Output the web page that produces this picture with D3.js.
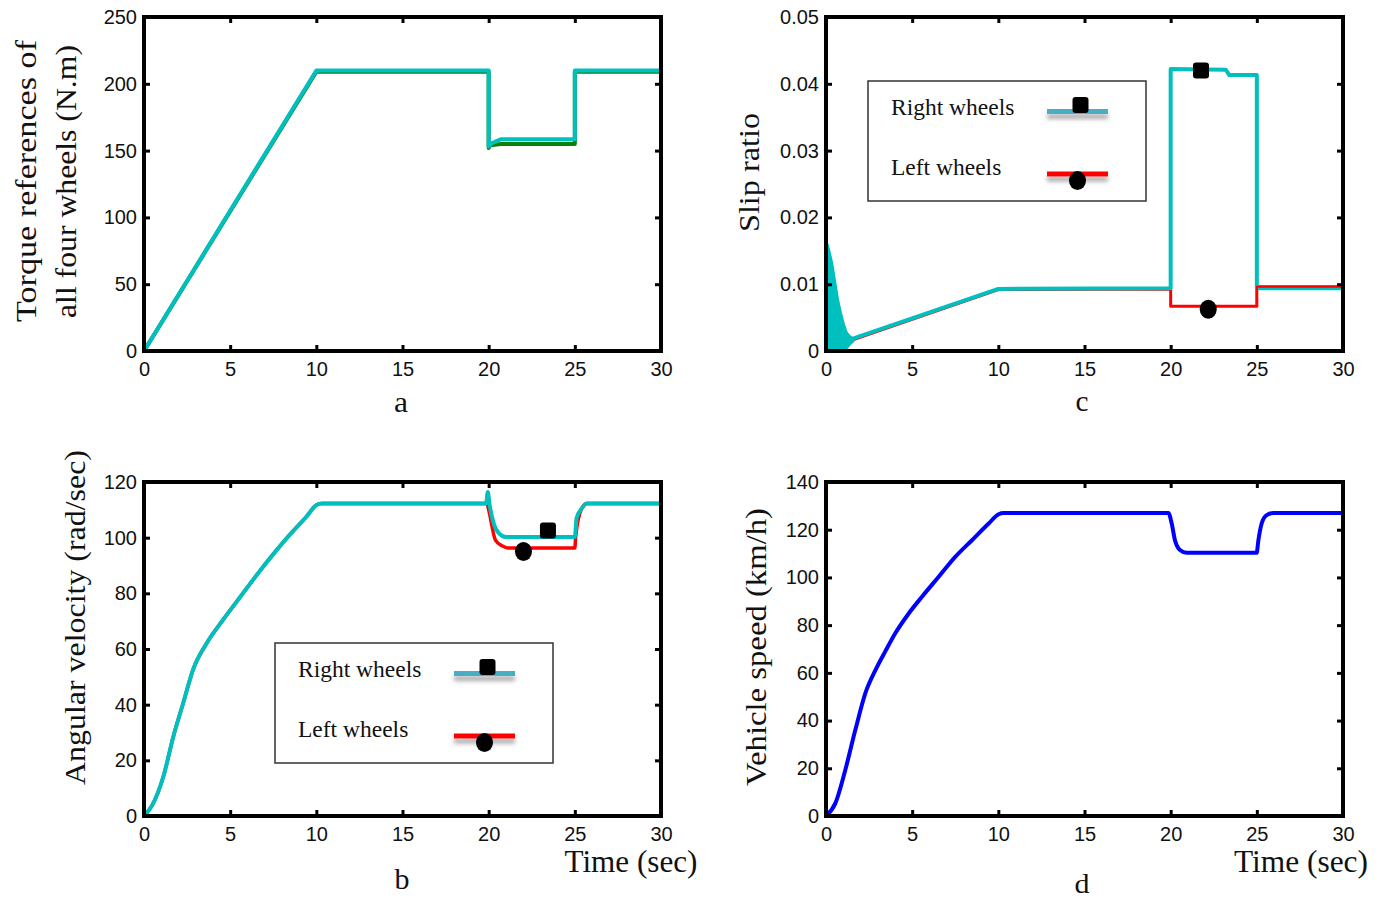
<!DOCTYPE html>
<html lang="en">
<head>
<meta charset="UTF-8">
<title>Torque, slip ratio, angular velocity and vehicle speed</title>
<script src="https://cdnjs.cloudflare.com/ajax/libs/d3/7.8.5/d3.min.js"></script>
<style>
    body { margin: 0; background: #fff; }
    .serif { font-family: 'Liberation Serif', 'Times New Roman', serif; fill: #111; }
    .tick text { font-family: 'Liberation Sans', Arial, sans-serif; font-size: 20px; fill: #111; }
</style>
</head>
<body>
<div id="chart"></div>
<script>

    // time axis shared by all four panels
    const timeTicks = [0, 5, 10, 15, 20, 25, 30];

    // (a) torque references
    const torqueTime  = [0, 10, 20, 20, 20.1, 20.7, 25, 25, 30];
    const torqueRight = [0, 210, 210, 153, 155, 158.5, 158.5, 210, 210];
    const torqueLeft  = [0, 209, 209, 152, 154, 155, 155, 209, 209];
    const torqueTicks = [0, 50, 100, 150, 200, 250];

    // (c) slip ratio
    const oscTime      = [0, 0.05, 0.1, 0.36, 0.53, 0.7, 0.87, 1.04, 1.2, 1.4, 1.6];
    const oscUpper     = [0.004, 0.0155, 0.016, 0.0132, 0.0104, 0.0077, 0.0057, 0.004, 0.0028, 0.0022, 0.0019];
    const oscLower     = [0, 0, 0, 0, 0, 0, 0, 0, 0.0004, 0.001, 0.0015];
    const slipTime     = [1.6, 10, 20, 20, 23.2, 23.4, 25, 25, 30];
    const slipRight    = [0.0019, 0.0093, 0.0094, 0.0422, 0.0421, 0.0413, 0.0413, 0.0094, 0.0094];
    const slipLeftTime = [0, 0.8, 1.6, 10, 20, 20, 25, 25, 30];
    const slipLeft     = [0, 0, 0.0017, 0.0092, 0.0093, 0.0067, 0.0067, 0.0096, 0.0096];
    const slipTicks    = [0, 0.01, 0.02, 0.03, 0.04, 0.05];
    const slipMarkers  = [[21.76, 0.042], [22.18, 0.00624]];   // right (square), left (circle)

    // (b) angular velocity
    const avRampTime   = [0, 0.48, 1.12, 1.7, 2.28, 2.86, 3.63, 4.59, 5.56, 6.53, 7.49, 8.45, 9.42, 10, 10.3];
    const avRamp       = [0, 3.9, 14.1, 28.5, 40.7, 52.8, 62, 70.5, 78.5, 86.5, 94, 101, 107.5, 111.7, 112.3];
    const avRightTime  = [19.85, 19.95, 20.05, 20.3, 20.6, 21, 25, 25.1, 25.4, 25.7, 30];
    const avRightTail  = [112.3, 116.4, 112, 105, 101.5, 100.2, 100.2, 107, 110.5, 112.3, 112.3];
    const avLeftTime   = [19.9, 20, 20.4, 20.8, 21.1, 25, 25.05, 25.4, 25.7, 30];
    const avLeftTail   = [112.3, 110, 99, 97, 96.3, 96.3, 100.5, 110.5, 112.3, 112.3];
    const avTicks      = [0, 20, 40, 60, 80, 100, 120];
    const avMarkers    = [[23.44, 102.6], [22.02, 95.0]];

    // (d) vehicle speed
    const speedTime = [0, 0.54, 1.12, 1.7, 2.28, 2.86, 3.44, 4.02, 4.8, 5.57, 6.54, 7.5, 8.47, 9.44, 10.02, 10.3,
                       19.87, 20.06, 20.25, 20.54, 20.93, 24.99, 25.09, 25.28, 25.57, 25.96, 30];
    const speed     = [0, 5.3, 19.3, 36, 51.4, 61, 69, 76.6, 84.9, 91.9, 100.3, 108.6, 115.6, 122.6, 126.5, 127,
                       127, 122.6, 115.6, 111.5, 110.3, 110.3, 115.6, 122.6, 126.1, 127, 127];
    const speedTicks = [0, 20, 40, 60, 80, 100, 120, 140];

    const cyan = '#00bfbf', red = '#ff0000', green = '#0a820a', blue = '#0000ff', legendBlue = '#4bacc6';

    const svg = d3.select('#chart').append('svg')
        .attr('width', 1383)
        .attr('height', 901);

    const defs = svg.append('defs');
    defs.append('filter').attr('id', 'shadow')
        .attr('x', '-10%').attr('y', '-100%').attr('width', '120%').attr('height', '400%')
        .append('feDropShadow')
        .attr('dx', 0).attr('dy', 5).attr('stdDeviation', 2)
        .attr('flood-color', '#555').attr('flood-opacity', 0.5);

    const zip = (xs, ys) => xs.map((t, i) => [t, ys[i]]);

    // builds one framed panel and returns its scales
    const makePanel = (p) => {
        const g = svg.append('g').attr('transform', `translate(${p.left},${p.top})`);
        const x = d3.scaleLinear().domain([0, 30]).range([0, p.width]);
        const y = d3.scaleLinear().domain([0, d3.max(p.yTicks)]).range([p.height, 0]);
        const series = g.append('g');
        const axes = g.append('g');

        axes.append('g').attr('transform', `translate(0,${p.height})`)
            .call(d3.axisBottom(x).tickValues(timeTicks).tickSizeInner(-6).tickSizeOuter(0).tickPadding(11));
        axes.append('g')
            .call(d3.axisTop(x).tickValues(timeTicks).tickSizeInner(-6).tickSizeOuter(0).tickFormat(''));
        axes.append('g')
            .call(d3.axisLeft(y).tickValues(p.yTicks).tickSizeInner(-6).tickSizeOuter(0).tickPadding(7).tickFormat(p.fmt || d3.format('d')));
        axes.append('g').attr('transform', `translate(${p.width},0)`)
            .call(d3.axisRight(y).tickValues(p.yTicks).tickSizeInner(-6).tickSizeOuter(0).tickFormat(''));
        axes.selectAll('.domain').remove();
        axes.selectAll('.tick line').attr('stroke', '#000').attr('stroke-width', 3);
        axes.append('rect')
            .attr('width', p.width).attr('height', p.height)
            .attr('fill', 'none').attr('stroke', '#000').attr('stroke-width', 4);

        return { g: series, x, y };
    };

    const drawLine = (panel, pts, colour, width, curve) => {
        panel.g.append('path')
            .datum(pts)
            .attr('fill', 'none')
            .attr('stroke', colour)
            .attr('stroke-width', width)
            .attr('stroke-linejoin', 'round')
            .attr('d', d3.line()
                .x(d => panel.x(d[0]))
                .y(d => panel.y(d[1]))
                .curve(curve || d3.curveLinear));
    };

    const drawMarkers = (panel, markers) => {
        const [sq, ci] = markers;
        panel.g.append('rect')
            .attr('x', panel.x(sq[0]) - 8).attr('y', panel.y(sq[1]) - 8)
            .attr('width', 16).attr('height', 16).attr('rx', 3)
            .attr('fill', '#000');
        panel.g.append('ellipse')
            .attr('cx', panel.x(ci[0])).attr('cy', panel.y(ci[1]))
            .attr('rx', 8.5).attr('ry', 9.5)
            .attr('fill', '#000');
    };

    const drawLegend = (panel, lx, ly) => {
        const lg = panel.g.append('g').attr('transform', `translate(${lx},${ly})`);
        lg.append('rect').attr('width', 278).attr('height', 120)
            .attr('fill', '#fff').attr('stroke', '#333').attr('stroke-width', 1.5);
        const rows = [
            { label: 'Right wheels', colour: legendBlue, ly: 30.5, marker: 'square' },
            { label: 'Left wheels', colour: red, ly: 93, marker: 'circle' }
        ];
        rows.forEach((r, i) => {
            lg.append('text').attr('class', 'serif')
                .attr('x', 23).attr('y', 34 + i * 60)
                .attr('font-size', 23.5)
                .text(r.label);
            lg.append('rect')
                .attr('x', 179).attr('y', r.ly - 2.5)
                .attr('width', 61).attr('height', 5)
                .attr('fill', r.colour)
                .attr('filter', 'url(#shadow)');
            if (r.marker === 'square') {
                lg.append('rect').attr('x', 204.5).attr('y', 16)
                    .attr('width', 16).attr('height', 16).attr('rx', 3).attr('fill', '#000');
            } else {
                lg.append('ellipse').attr('cx', 209.5).attr('cy', 99.5)
                    .attr('rx', 8.5).attr('ry', 9.5).attr('fill', '#000');
            }
        });
    };

    const title = (x, y, text, len, size, rotate) => {
        svg.append('text').attr('class', 'serif')
            .attr('transform', `translate(${x},${y})` + (rotate ? ' rotate(-90)' : ''))
            .attr('text-anchor', 'middle')
            .attr('font-size', size)
            .attr('textLength', len)
            .attr('lengthAdjust', 'spacingAndGlyphs')
            .text(text);
    };

    // panel a
    const pa = makePanel({ left: 144, top: 17, width: 517, height: 334, yTicks: torqueTicks });
    drawLine(pa, zip(torqueTime, torqueLeft), green, 4);
    drawLine(pa, zip(torqueTime, torqueRight), cyan, 4);

    // panel c
    const pc = makePanel({ left: 826, top: 17, width: 517, height: 334, yTicks: slipTicks,
        fmt: d => d === 0 ? '0' : d.toFixed(2) });
    drawLine(pc, zip(slipLeftTime, slipLeft), red, 3);
    pc.g.append('path')
        .datum(oscTime.map((t, i) => [t, oscLower[i], oscUpper[i]]))
        .attr('fill', cyan).attr('stroke', cyan).attr('stroke-width', 2)
        .attr('d', d3.area().x(d => pc.x(d[0])).y0(d => pc.y(d[1])).y1(d => pc.y(d[2])));
    drawLine(pc, zip(slipTime, slipRight), cyan, 4);
    drawLine(pc, zip(slipLeftTime, slipLeft).filter(d => d[0] >= 25), red, 2);
    drawMarkers(pc, slipMarkers);
    drawLegend(pc, 42, 64);

    // panel b
    const pb = makePanel({ left: 144, top: 482, width: 517, height: 334, yTicks: avTicks });
    const avRampPts = zip(avRampTime, avRamp);
    drawLine(pb, avRampPts.concat(zip(avLeftTime, avLeftTail)), red, 3.5, d3.curveMonotoneX);
    drawLine(pb, avRampPts.concat(zip(avRightTime, avRightTail)), cyan, 4, d3.curveMonotoneX);
    drawMarkers(pb, avMarkers);
    drawLegend(pb, 131, 161);

    // panel d
    const pd = makePanel({ left: 826, top: 482, width: 517, height: 334, yTicks: speedTicks });
    drawLine(pd, zip(speedTime, speed), blue, 4, d3.curveMonotoneX);

    // axis titles and captions
    title(36, 181, 'Torque references of', 282, 30, true);
    title(76, 181.5, 'all four wheels (N.m)', 273, 30, true);
    title(759, 172.5, 'Slip ratio', 119, 30, true);
    title(85, 617.5, 'Angular velocity (rad/sec)', 335, 30, true);
    title(766, 647, 'Vehicle speed (km/h)', 278, 30, true);
    title(631, 872, 'Time (sec)', 133, 32, false);
    title(1301, 872, 'Time (sec)', 134, 32, false);
    title(401, 412, 'a', 14, 30, false);
    title(1082, 411, 'c', 13, 30, false);
    title(402, 889, 'b', 15, 30, false);
    title(1082, 893, 'd', 15, 28, false);

</script>
</body>
</html>
